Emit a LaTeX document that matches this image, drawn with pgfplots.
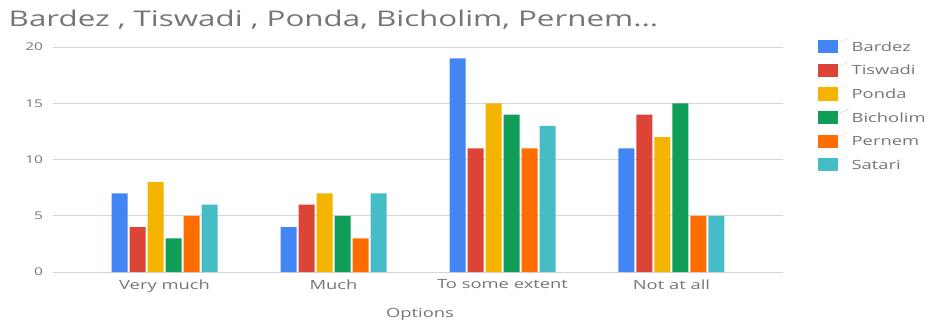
\documentclass[border=0pt]{standalone}
\usepackage{fontspec}
\setmainfont{Open Sans}[FakeStretch=1.45]
\usepackage{pgfplots}
\pgfplotsset{compat=1.18}

\definecolor{cBardez}{HTML}{4285F4}
\definecolor{cTiswadi}{HTML}{DB4437}
\definecolor{cPonda}{HTML}{F4B400}
\definecolor{cBicholim}{HTML}{0F9D58}
\definecolor{cPernem}{HTML}{FF6D00}
\definecolor{cSatari}{HTML}{46BDC6}
\definecolor{txt}{HTML}{757575}
\definecolor{gridc}{HTML}{D6D6D6}
\definecolor{basec}{HTML}{333333}

\begin{document}
\begin{tikzpicture}[x=0.75pt,y=0.75pt]
\path[use as bounding box] (-53,-57) rectangle (877,272);
\begin{axis}[
  at={(0,0)}, anchor=south west,
  scale only axis, width=547.5pt, height=168.75pt,
  ybar=1.5pt, bar width=12pt,
  xmin=-0.66, xmax=3.66, ymin=0, ymax=20,
  xtick={0,1,2,3},
  xticklabels={Very much,Much,To some extent,Not at all},
  ytick={5,10,15,20},
  extra y ticks={0}, extra y tick labels={0},
  extra y tick style={grid style={basec, line width=0.8pt}},
  ymajorgrids, major grid style={gridc, line width=0.6pt},
  axis line style={draw=none},
  major tick length=0pt,
  tick style={draw=none},
  tick label style={txt, font=\fontsize{9.5}{11}\selectfont},
  yticklabel style={xshift=-4pt, font=\fontsize{8}{10}\selectfont},
  xticklabel style={yshift=-2pt},
  /pgf/number format/assume math mode=true,
  legend cell align=left,
  legend image code/.code={\fill[#1] (0pt,-4.1pt) rectangle (15pt,5.7pt);
                          \path (0pt,-2.6pt) -- (23pt,7.2pt);},
  legend style={at={(1.048,1.04)}, anchor=north west, draw=none, fill=none,
    inner sep=0pt, text=txt, font=\fontsize{9.5}{11}\selectfont,
    nodes={text height=7pt, text depth=2pt, inner ysep=0pt},
    row sep=6pt},
  every axis plot/.append style={draw=none},
]
\addplot[fill=cBardez]   coordinates {(0,7) (1,4) (2,19) (3,11)};
\addplot[fill=cTiswadi]  coordinates {(0,4) (1,6) (2,11) (3,14)};
\addplot[fill=cPonda]    coordinates {(0,8) (1,7) (2,15) (3,12)};
\addplot[fill=cBicholim] coordinates {(0,3) (1,5) (2,14) (3,15)};
\addplot[fill=cPernem]   coordinates {(0,5) (1,3) (2,11) (3,5)};
\addplot[fill=cSatari]   coordinates {(0,6) (1,7) (2,13) (3,5)};
\legend{Bardez,Tiswadi,Ponda,Bicholim,Pernem,Satari}
\end{axis}
\node[anchor=base west, txt, font=\fontsize{16.2}{19}\selectfont] at (-49,245)
  {Bardez , Tiswadi , Ponda, Bicholim, Pernem...};
\node[anchor=base, txt, font=\fontsize{9.5}{11}\selectfont] at (367,-45) {Options};
\end{tikzpicture}
\end{document}
